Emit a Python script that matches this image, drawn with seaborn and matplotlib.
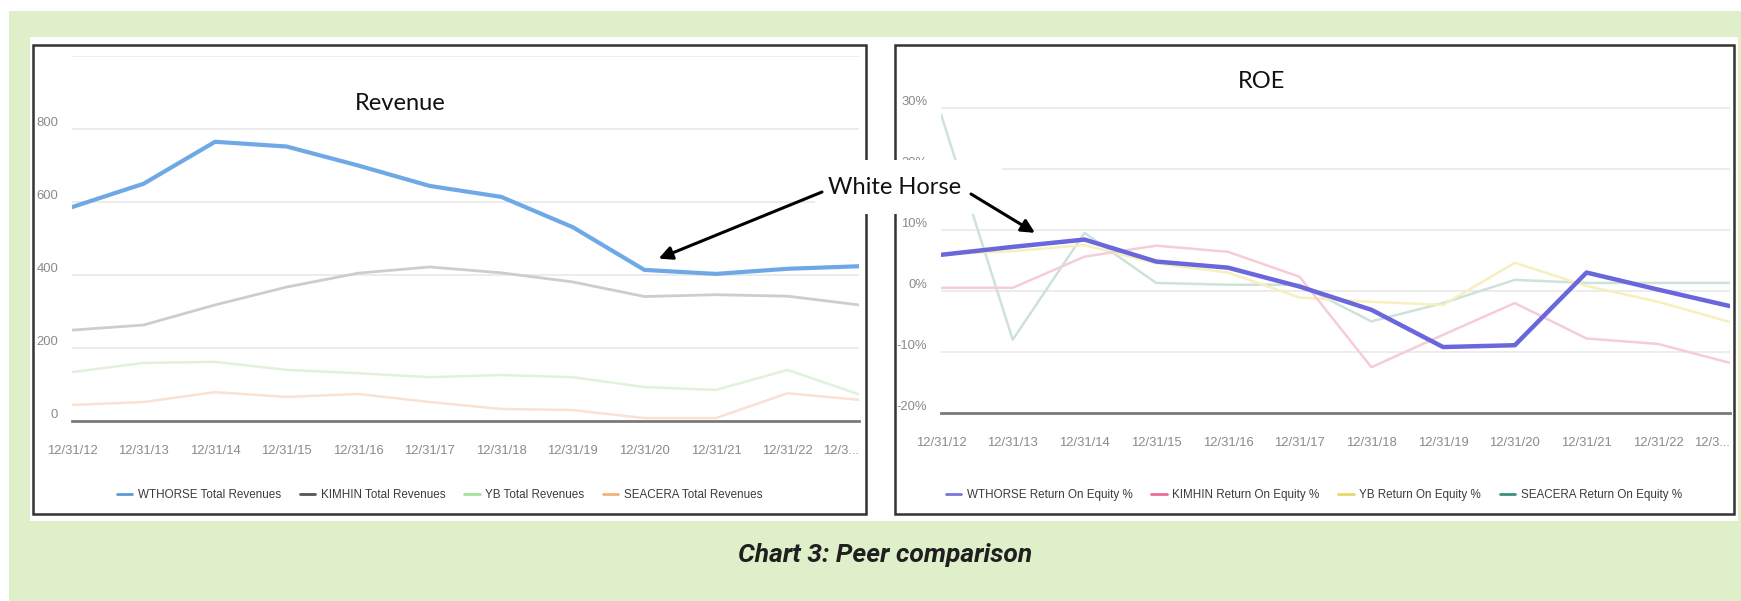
import numpy as np
import pandas as pd
import matplotlib
matplotlib.use("Agg")
import matplotlib.pyplot as plt
import seaborn as sns
from matplotlib import font_manager
from matplotlib.lines import Line2D
from matplotlib.patches import Rectangle
from matplotlib.transforms import ScaledTranslation

# ---- data ----
periods = ["12/31/12", "12/31/13", "12/31/14", "12/31/15", "12/31/16", "12/31/17",
           "12/31/18", "12/31/19", "12/31/20", "12/31/21", "12/31/22", "12/3..."]

wthorse_rev = [586, 650, 765, 752, 700, 644, 614, 531, 414, 403, 417, 424]
kimhin_rev = [249, 263, 318, 367, 405, 422, 406, 381, 341, 346, 342, 318]
yb_rev = [134, 159, 162, 140, 131, 120, 126, 120, 93, 85, 140, 73]
seacera_rev = [44, 52, 79, 66, 74, 52, 33, 30, 8, 8, 76, 58]

wthorse_roe = [5.9, 7.2, 8.4, 4.8, 3.8, 0.7, -3.1, -9.2, -8.9, 3.0, 0.2, -2.5]
kimhin_roe = [0.5, 0.5, 5.6, 7.4, 6.4, 2.3, -12.5, -7.2, -2.0, -7.8, -8.7, -11.8]
yb_roe = [6.0, 6.5, 7.5, 4.5, 3.0, -1.1, -1.8, -2.3, 4.6, 0.8, -1.8, -5.1]
seacera_roe = [28.9, -8.0, 9.5, 1.3, 1.0, 1.0, -5.0, -2.0, 1.8, 1.3, 1.3, 1.3]

rev_names = ["WTHORSE Total Revenues", "KIMHIN Total Revenues",
             "YB Total Revenues", "SEACERA Total Revenues"]
roe_names = ["WTHORSE Return On Equity %", "KIMHIN Return On Equity %",
             "YB Return On Equity %", "SEACERA Return On Equity %"]

# faded line colours in the plot, stronger ones in the legend
rev_line_colors = ["#6fa8e6", "#cdcdcd", "#e2f2da", "#fbe1d2"]
rev_leg_colors = ["#5b9bd5", "#555555", "#a8e29a", "#f2b27c"]
rev_widths = [3.0, 2.0, 1.8, 1.8]
roe_line_colors = ["#6a66dc", "#f6ccd9", "#f6f0bc", "#cde2db"]
roe_leg_colors = ["#7a74e0", "#ef6d95", "#e4da6c", "#3b8f7f"]
roe_widths = [3.2, 1.8, 1.8, 1.8]

W, H = 1741, 601
GREEN = "#dfefc9"

# an Arial Narrow look-alike if there is one, otherwise plain Liberation Sans a bit smaller
installed = {f.name for f in font_manager.fontManager.ttflist}
if "Liberation Sans Narrow" in installed:
    NARROW, TICK_SIZE, LEG_SIZE = ["Liberation Sans Narrow", "DejaVu Sans"], 10, 9.5
else:
    NARROW, TICK_SIZE, LEG_SIZE = ["Liberation Sans", "DejaVu Sans"], 9.4, 8.4


def fx(px):
    return px / W


def fy(py):
    return 1 - py / H


def style_axis(ax, yticks, ylabels, ylim):
    ax.set_xlim(0, len(periods) - 1)
    ax.set_ylim(*ylim)
    ax.set_facecolor("none")
    ax.set_xticks(range(len(periods)))
    ax.set_xticklabels(periods, family=NARROW, fontsize=TICK_SIZE, color="#8a8a8a")
    ax.get_xticklabels()[-1].set_ha("right")
    ax.set_yticks(yticks)
    ax.set_yticklabels(ylabels, family=NARROW, fontsize=TICK_SIZE, color="#8a8a8a")
    ax.tick_params(axis="x", direction="out", length=8.5, width=1.3,
                   color="#6e6e6e", pad=8.5)
    ax.tick_params(axis="y", length=0, pad=10)
    for side in ["top", "right", "left"]:
        ax.spines[side].set_visible(False)
    ax.spines["bottom"].set_color("#7a7a7a")
    ax.spines["bottom"].set_linewidth(2)
    ax.grid(axis="y", color="#e9e9e9", linewidth=1.2)
    ax.grid(axis="x", visible=False)
    ax.set_xlabel("")
    ax.set_ylabel("")
    # value labels sit a little above their grid lines
    shift = ScaledTranslation(0, 0.075, ax.figure.dpi_scale_trans)
    for lab in ax.get_yticklabels():
        lab.set_transform(lab.get_transform() + shift)


def draw_panel(ax, series, colors, widths):
    x = np.arange(len(periods))
    for vals, col, lw in reversed(list(zip(series, colors, widths))):
        sns.lineplot(x=x, y=vals, color=col, linewidth=lw, ax=ax, legend=False)


sns.set_theme(style="white")
plt.rcParams["font.family"] = ["DejaVu Sans"]

fig = plt.figure(figsize=(W / 100, H / 100), dpi=100, facecolor="white")

# backgrounds and panel frames
fig.patches.append(Rectangle((fx(9), 0), 1 - fx(9), fy(11), transform=fig.transFigure,
                             facecolor=GREEN, edgecolor="none", zorder=-20))
fig.patches.append(Rectangle((fx(30), fy(521)), fx(1738) - fx(30), fy(37) - fy(521),
                             transform=fig.transFigure, facecolor="white",
                             edgecolor="none", zorder=-19))
for x0, x1 in [(33, 866), (895, 1734)]:
    fig.patches.append(Rectangle((fx(x0), fy(514)), fx(x1) - fx(x0), fy(45) - fy(514),
                                 transform=fig.transFigure, facecolor="none",
                                 edgecolor="#333333", linewidth=1.8, zorder=-18))

# Revenue panel
ax1 = fig.add_axes([fx(72), fy(421), (859 - 72) / W, (421 - 56) / H])
draw_panel(ax1, [wthorse_rev, kimhin_rev, yb_rev, seacera_rev],
           rev_line_colors, rev_widths)
style_axis(ax1, [0, 200, 400, 600, 800, 1000],
           ["0", "200", "400", "600", "800", ""], (0, 1000))
ax1.text(0.417, 0.87, "Revenue", transform=ax1.transAxes, ha="center", va="center",
         family="Lato", fontsize=17, color="#111111")

# ROE panel
ax2 = fig.add_axes([fx(941), fy(413), (1730 - 941) / W, (413 - 71) / H])
draw_panel(ax2, [wthorse_roe, kimhin_roe, yb_roe, seacera_roe],
           roe_line_colors, roe_widths)
style_axis(ax2, [-20, -10, 0, 10, 20, 30],
           ["-20%", "-10%", "0%", "10%", "20%", "30%"], (-20, 36))
ax2.text(0.406, 0.97, "ROE", transform=ax2.transAxes, ha="center", va="center",
         family="Lato", fontsize=17, color="#111111")

# legends under each panel
for names, cols, cx in [(rev_names, rev_leg_colors, 440),
                        (roe_names, roe_leg_colors, 1314)]:
    handles = [Line2D([], [], color=c, linewidth=2) for c in cols]
    fig.legend(handles, names, loc="center", bbox_to_anchor=(fx(cx), fy(495)),
               ncol=4, frameon=False, handlelength=1.3, handletextpad=0.5,
               columnspacing=1.6, prop={"family": NARROW, "size": LEG_SIZE},
               labelcolor="#3c3c3c")

# "White Horse" callout on an overlay in pixel coordinates
ov = fig.add_axes([0, 0, 1, 1], zorder=10)
ov.set_xlim(0, W)
ov.set_ylim(H, 0)
ov.axis("off")
ov.set_facecolor("none")
ov.add_patch(Rectangle((815, 160), 1002 - 815, 54, facecolor="white",
                       edgecolor="none", zorder=1))
arrow = dict(arrowstyle="-|>", color="black", lw=2.2, mutation_scale=20,
             shrinkA=0, shrinkB=0)
ov.annotate("", xy=(8.2, 445), xycoords=ax1.transData, xytext=(822, 192),
            textcoords="data", arrowprops=arrow, zorder=2)
ov.annotate("", xy=(1.31, 9.5), xycoords=ax2.transData, xytext=(971, 194),
            textcoords="data", arrowprops=arrow, zorder=2)
ov.text(895, 188, "White Horse", ha="center", va="center", family="Lato",
        fontsize=17, color="#111111", zorder=3)

fig.text(fx(885), fy(555), "Chart 3: Peer comparison", ha="center", va="center",
         family="Roboto", fontweight="bold", fontstyle="italic", fontsize=19,
         color="#1f1f1f")

fig.savefig("out.png", dpi=100, facecolor="white")
